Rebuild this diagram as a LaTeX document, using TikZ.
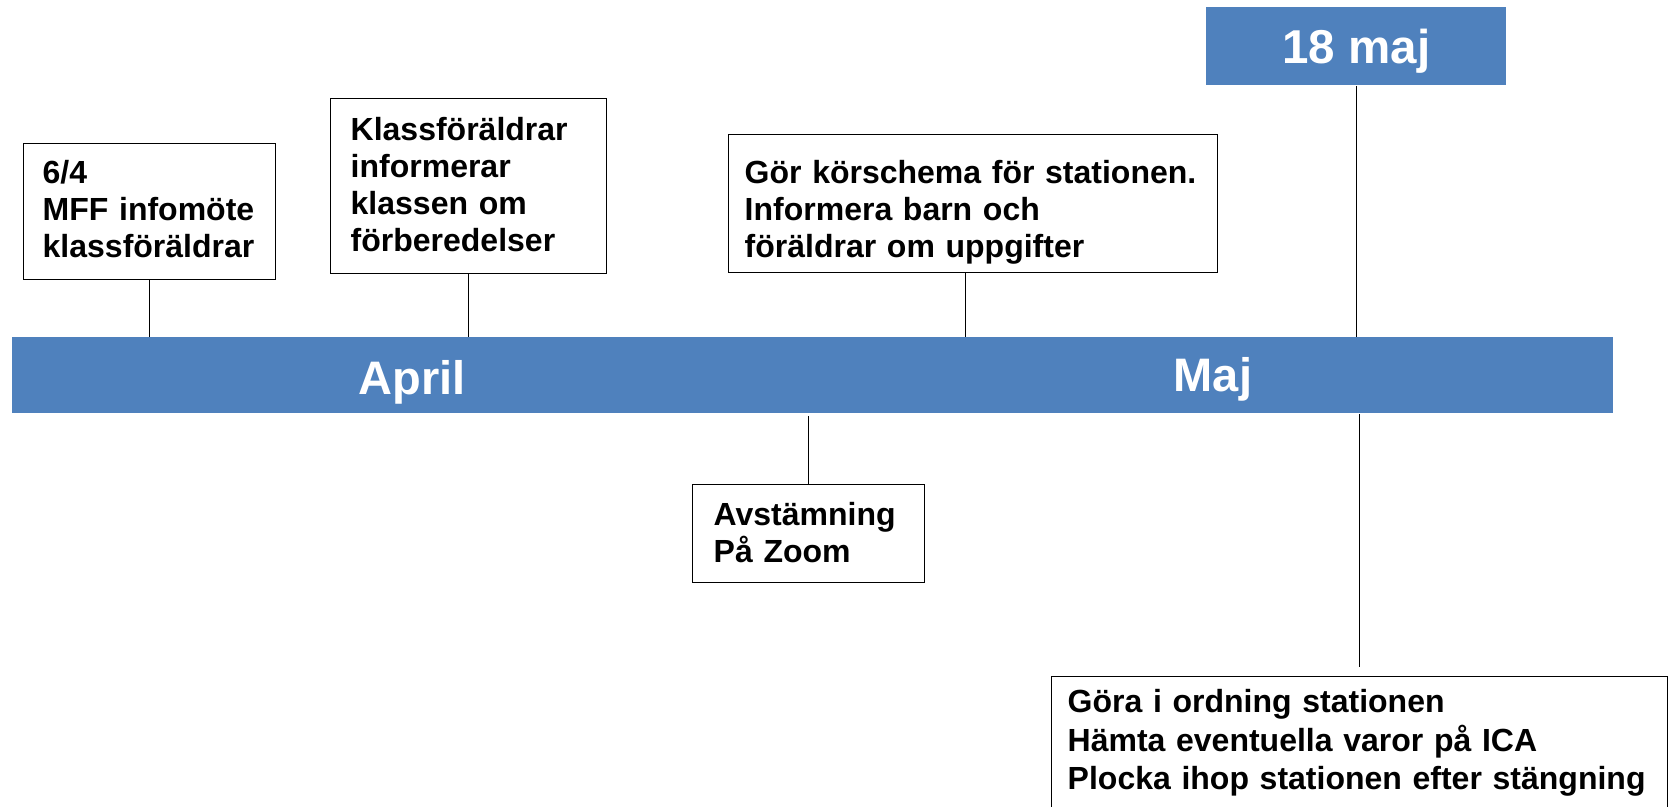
\documentclass[tikz,border=0pt]{standalone}
\usepackage{fontspec}
\setmainfont{Liberation Sans}
\definecolor{tlblue}{HTML}{4F81BD}
\newcommand{\bodyfont}{\fontsize{16}{18.5}\selectfont\bfseries}
\newcommand{\monthfont}{\fontsize{23.5}{28}\selectfont\bfseries}
\hyphenpenalty=10000
\exhyphenpenalty=10000

\begin{document}
\begin{tikzpicture}[x=0.5pt,y=-0.5pt,
    taskbox/.style={draw=black, line width=0.7pt, fill=white, anchor=north west,
      inner xsep=10pt, inner ysep=0pt, align=left, font=\bodyfont},
    bluebox/.style={fill=tlblue, inner sep=0pt},
    month/.style={text=white, font=\monthfont, anchor=base},
    stem/.style={line width=0.55pt}]
  \useasboundingbox (0,0) rectangle (1669,807);
  % time line
  \node[bluebox, minimum width=800.5pt, minimum height=38pt, anchor=north west] (bar) at (12,337) {};
  \node[month] (april) at (412,394) {April};
  \node[month] (maj) at (1213,392) {Maj};
  % the day itself
  \node[bluebox, minimum width=150pt, minimum height=39pt, anchor=north west,
    text=white, font=\fontsize{23.75}{28}\selectfont\bfseries, text depth=0pt] (dag) at (1206,7) {18 maj};
  % boxes above the line
  \node[taskbox, inner xsep=9.5pt, text width=107pt, text height=20pt, text depth=48pt] (info) at (23,143)
    {6/4\\MFF infomöte\\klassföräldrar};
  \node[taskbox, text width=118pt, text height=21pt, text depth=66.5pt] (klass) at (330,98)
    {Klassföräldrar\\informerar\\klassen om\\förberedelser};
  \node[taskbox, inner xsep=8pt, text width=228.5pt, text height=24.5pt, text depth=44.5pt] (schema) at (728,134)
    {Gör körschema för stationen.\\Informera barn och\\föräldrar om uppgifter};
  % boxes below the line
  \node[taskbox, inner xsep=10.5pt, text width=95pt, text height=20.5pt, text depth=28.5pt] (avst) at (692,484)
    {Avstämning\\På Zoom};
  \node[taskbox, inner xsep=8pt, text width=292pt, text height=18pt, text depth=70pt, font=\fontsize{16}{19.25}\selectfont\bfseries] (ordning) at (1051,676)
    {Göra i ordning stationen\\Hämta eventuella varor på ICA\\Plocka ihop stationen efter stängning};
  % stems
  \draw[stem] (info.south) -- (info.south |- bar.north);
  \draw[stem] (klass.south) -- (klass.south |- bar.north);
  \draw[stem] ([xshift=-3.75pt]schema.south) -- ([xshift=-3.75pt]schema.south |- bar.north);
  \draw[stem] (dag.south) -- (dag.south |- bar.north);
  \draw[stem, shorten <=1pt] (avst.north |- bar.south) -- (avst.north);
  \draw[stem, shorten >=4.5pt] (ordning.north |- bar.south) -- (ordning.north);
\end{tikzpicture}
\end{document}
